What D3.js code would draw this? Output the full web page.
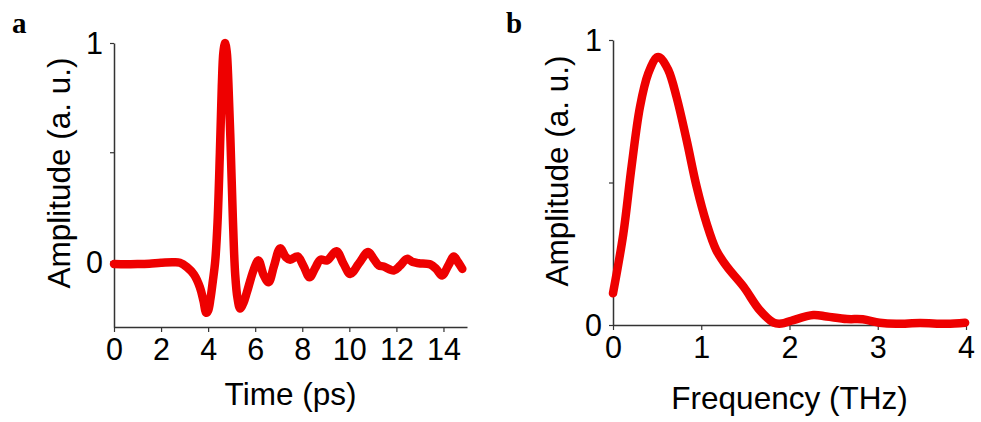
<!DOCTYPE html>
<html>
<head>
<meta charset="utf-8">
<script src="https://cdn.jsdelivr.net/npm/d3@7"></script>
<style>
    body { margin: 0; background: #fff; }
    svg { display: block; }
    text { font-family: Arial, "Liberation Sans", sans-serif; fill: #000; }
</style>
</head>
<body>
<div id="chart"></div>
<script>
// panel a: time-domain waveform
const timePs = [0, 0.5, 1.0, 1.5, 2.0, 2.5, 2.8, 3.1, 3.4, 3.65, 3.8, 3.92, 4.0, 4.1, 4.2, 4.3, 4.4, 4.5, 4.58, 4.65,
    4.72, 4.79, 4.86, 4.95, 5.05, 5.15, 5.25, 5.36, 5.5, 5.65, 5.93, 6.14, 6.35, 6.57, 6.8, 7.06, 7.3, 7.49, 7.8,
    8.05, 8.31, 8.55, 8.77, 9.05, 9.45, 9.75, 10.04, 10.4, 10.8, 11.05, 11.25, 11.46, 11.89, 12.15, 12.45, 12.7,
    12.95, 13.45, 13.7, 13.94, 14.2, 14.44, 14.6, 14.8];
const timeAmp = [-0.012, -0.013, -0.012, -0.01, -0.006, -0.004, -0.006, -0.026, -0.06, -0.118, -0.18, -0.235,
    -0.225, -0.17, -0.09, 0.0, 0.18, 0.5, 0.8, 0.96, 1.0, 0.96, 0.82, 0.55, 0.2, -0.06, -0.17, -0.215, -0.19, -0.14,
    -0.04, 0.005, -0.06, -0.095, -0.02, 0.06, 0.02, 0.008, 0.023, -0.02, -0.072, -0.03, 0.008, 0.005, 0.047, -0.01,
    -0.057, -0.01, 0.043, 0.01, -0.018, -0.023, -0.041, -0.02, 0.012, -0.003, -0.008, -0.014, -0.035, -0.064, -0.02,
    0.023, 0.0, -0.034];
const timeTicks = [0, 2, 4, 6, 8, 10, 12, 14];

// panel b: spectrum
const freqTHz = [0, 0.117, 0.21, 0.306, 0.40, 0.495, 0.53, 0.626, 0.72, 0.834, 0.948, 1.06, 1.17, 1.29, 1.48, 1.66,
    1.82, 1.91, 2.02, 2.27, 2.42, 2.65, 2.83, 3.02, 3.21, 3.48, 3.78, 3.99];
const freqAmp = [0.111, 0.32, 0.555, 0.766, 0.883, 0.939, 0.939, 0.895, 0.80, 0.649, 0.485, 0.357, 0.263, 0.205,
    0.134, 0.053, 0.008, 0.005, 0.015, 0.035, 0.03, 0.021, 0.02, 0.008, 0.004, 0.007, 0.004, 0.008];
const freqTicks = [0, 1, 2, 3, 4];

const ampTicks = [0, 0.5, 1];
const ampLabels = { 0: "0", 1: "1" };

const width = 981, height = 422;
const red = "#ee0000";
const axisColor = "#333";

const svg = d3.select("#chart")
    .append("svg")
    .attr("width", width)
    .attr("height", height);

function drawPanel(opt) {
    const x = d3.scaleLinear().domain(opt.xDomain).range([opt.left, opt.right]);
    const y = d3.scaleLinear().domain(opt.yDomain).range([opt.bottom, opt.top]);
    const g = svg.append("g");

    const xAxis = g.append("g")
        .attr("transform", `translate(0,${opt.bottom})`)
        .call(d3.axisBottom(x).tickValues(opt.xTicks).tickSize(5).tickPadding(6).tickSizeOuter(0)
            .tickFormat(d3.format("d")));
    const yAxis = g.append("g")
        .attr("transform", `translate(${opt.left},0)`)
        .call(d3.axisLeft(y).tickValues(ampTicks).tickSize(4).tickPadding(7).tickSizeOuter(0)
            .tickFormat(d => ampLabels[d] || ""));

    [xAxis, yAxis].forEach(a => {
        a.select(".domain").attr("stroke", axisColor).attr("stroke-width", 1.5);
        a.selectAll(".tick line").attr("stroke", axisColor).attr("stroke-width", 1.2);
        a.selectAll(".tick text")
            .attr("font-family", "Arial, 'Liberation Sans', sans-serif")
            .attr("font-size", 30.5)
            .attr("fill", "#000");
    });
    yAxis.selectAll(".tick text").attr("dy", "0.36em");

    const line = d3.line()
        .x(d => x(d[0]))
        .y(d => y(d[1]))
        .curve(d3.curveCatmullRom.alpha(0.5));

    g.append("path")
        .datum(d3.zip(opt.xs, opt.ys))
        .attr("fill", "none")
        .attr("stroke", red)
        .attr("stroke-width", 8.5)
        .attr("stroke-linecap", "round")
        .attr("stroke-linejoin", "round")
        .attr("d", line);

    g.append("text")
        .attr("x", (opt.left + opt.right) / 2)
        .attr("y", opt.xTitleY)
        .attr("text-anchor", "middle")
        .style("font-size", "31.5px")
        .text(opt.xTitle);

    g.append("text")
        .attr("transform", `translate(${opt.yTitleX},${opt.yTitleY}) rotate(-90)`)
        .attr("text-anchor", "middle")
        .style("font-size", "31.5px")
        .text("Amplitude (a. u.)");

    g.append("text")
        .attr("x", opt.tagX)
        .attr("y", 33)
        .style("font-family", "'Liberation Serif', 'Times New Roman', serif")
        .style("font-weight", "bold")
        .style("font-size", "29px")
        .text(opt.tag);
}

drawPanel({
    xs: timePs, ys: timeAmp, xDomain: [0, 15], yDomain: [-0.3, 1], xTicks: timeTicks,
    left: 114, right: 467, top: 43, bottom: 327,
    xTitle: "Time (ps)", xTitleY: 405, yTitleX: 70, yTitleY: 173,
    tag: "a", tagX: 12
});

drawPanel({
    xs: freqTHz, ys: freqAmp, xDomain: [0, 4], yDomain: [0, 1], xTicks: freqTicks,
    left: 613, right: 966, top: 40, bottom: 325,
    xTitle: "Frequency (THz)", xTitleY: 409, yTitleX: 568, yTitleY: 171,
    tag: "b", tagX: 506
});
</script>
</body>
</html>
